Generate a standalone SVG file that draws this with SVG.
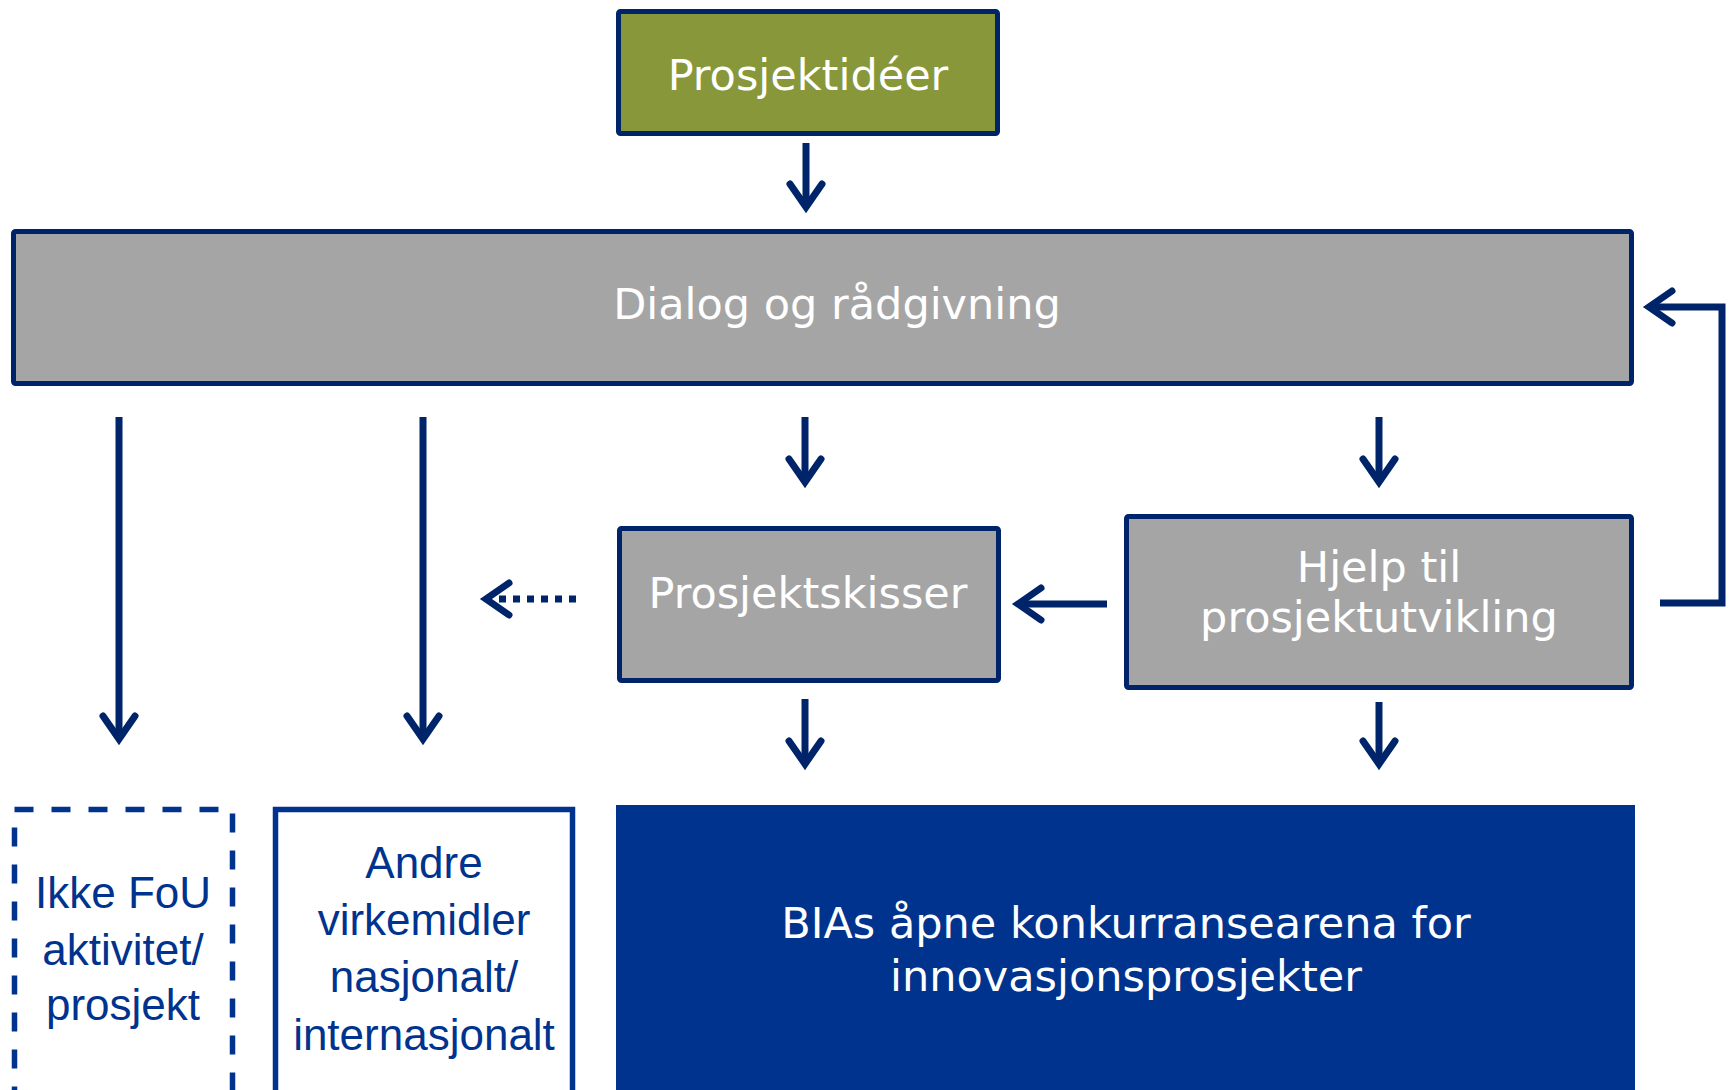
<svg xmlns="http://www.w3.org/2000/svg" width="1730" height="1090" viewBox="0 0 1730 1090">
<style>
.box{stroke:#002469;stroke-width:5}
.grey{fill:#A5A5A5}
.olive{fill:#87973A}
.wt{fill:#FFFFFF;font-family:"DejaVu Sans",Verdana,sans-serif;font-size:43px;text-anchor:middle}
.bt{fill:#00338D;font-family:"Liberation Sans",Arial,sans-serif;font-size:44px;text-anchor:middle}
.out{fill:#FFFFFF;stroke:#00338D;stroke-width:5.5}
.con{fill:none;stroke:#002469;stroke-width:7;marker-end:url(#arr)}
</style>
<defs>
<marker id="arr" markerUnits="userSpaceOnUse" viewBox="-40 -30 60 60" refX="0" refY="0" markerWidth="60" markerHeight="60" orient="auto" overflow="visible">
<path d="M -21 -16 L 2 0 L -21 16" fill="none" stroke="#002469" stroke-width="7" stroke-linecap="round" stroke-linejoin="miter" stroke-miterlimit="10"/>
</marker>
</defs>
<rect width="1730" height="1090" fill="#FFFFFF"/>
<g id="prosjektideer">
<rect class="box olive" x="618.5" y="11.5" width="379" height="122" rx="2"/>
<text class="wt" x="808" y="90">Prosjektidéer</text>
</g>
<g id="dialog">
<rect class="box grey" x="13.5" y="231.5" width="1618" height="152" rx="2"/>
<text class="wt" x="837" y="319">Dialog og rådgivning</text>
</g>
<g id="prosjektskisser">
<rect class="box grey" x="619.5" y="528.5" width="379" height="152" rx="2"/>
<text class="wt" x="808" y="608">Prosjektskisser</text>
</g>
<g id="hjelp">
<rect class="box grey" x="1126.5" y="516.5" width="505" height="171" rx="2"/>
<text class="wt" x="1379" y="582">Hjelp til</text>
<text class="wt" x="1379" y="632">prosjektutvikling</text>
</g>
<g id="ikke-fou">
<rect class="out" x="14.5" y="809.5" width="218" height="300" stroke-dasharray="19 18"/>
<text class="bt" x="123" y="908">Ikke FoU</text>
<text class="bt" x="123" y="965">aktivitet/</text>
<text class="bt" x="123" y="1020">prosjekt</text>
</g>
<g id="andre">
<rect class="out" x="275.5" y="809.5" width="297" height="300"/>
<text class="bt" x="424" y="878">Andre</text>
<text class="bt" x="424" y="935">virkemidler</text>
<text class="bt" x="424" y="992">nasjonalt/</text>
<text class="bt" x="424" y="1050">internasjonalt</text>
</g>
<g id="bia">
<rect x="616" y="805" width="1019" height="300" fill="#00338D"/>
<text class="wt" x="1126" y="938">BIAs åpne konkurransearena for</text>
<text class="wt" x="1126" y="991">innovasjonsprosjekter</text>
</g>
<g id="connectors">
<line class="con" x1="806" y1="143" x2="806" y2="205"/>
<line class="con" x1="119" y1="417" x2="119" y2="737"/>
<line class="con" x1="423" y1="417" x2="423" y2="737"/>
<line class="con" x1="805" y1="417" x2="805" y2="480"/>
<line class="con" x1="1379" y1="417" x2="1379" y2="480"/>
<line class="con" x1="805" y1="699" x2="805" y2="762"/>
<line class="con" x1="1379" y1="702" x2="1379" y2="762"/>
<line class="con" x1="1107" y1="604" x2="1020" y2="604"/>
<line class="con" x1="576" y1="599" x2="488" y2="599" stroke-dasharray="7 7"/>
<polyline class="con" points="1660,603 1722,603 1722,307 1651,307"/>
</g>
</svg>
